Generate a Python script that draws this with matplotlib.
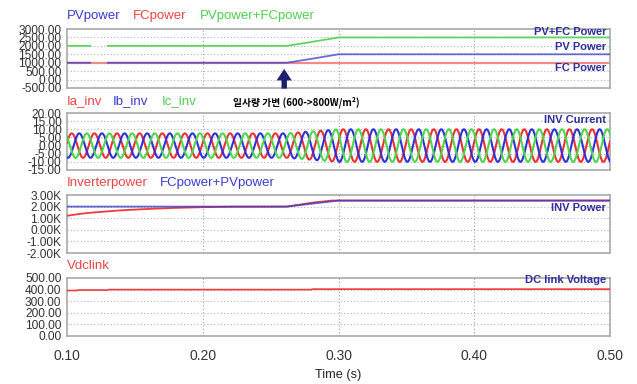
import numpy as np
import matplotlib
matplotlib.use("Agg")
import matplotlib.pyplot as plt

# ---------------- data ----------------
x_ticks = [0.10, 0.20, 0.30, 0.40, 0.50]
x_tick_labels = ["0.10", "0.20", "0.30", "0.40", "0.50"]

# Panel 1: PV / FC power
p1_t = [0.100, 0.117, 0.1171, 0.1299, 0.130, 0.262, 0.280, 0.300, 0.500]
pv_power = [1000, 1000, np.nan, np.nan, 1000, 1000, 1230, 1500, 1500]
fc_t = [0.100, 0.500]
fc_power = [1000, 1000]
pvfc_power = [2000, 2000, np.nan, np.nan, 2000, 2000, 2230, 2500, 2500]
p1_yticks = [3000, 2500, 2000, 1500, 1000, 500, 0, -500]
p1_ylabels = ["3000.00", "2500.00", "2000.00", "1500.00", "1000.00", "500.00", "0.00", "-500.00"]

# Panel 2: inverter currents (60 Hz three-phase, amplitude envelope)
cur_freq = 60.0
cur_phase_t = 0.1035        # time of first Ia peak
amp_t = [0.100, 0.262, 0.300, 0.500]
amp_val = [7.5, 7.5, 10.0, 10.0]
p2_yticks = [20, 15, 10, 5, 0, -5, -10, -15]
p2_ylabels = ["20.00", "15.00", "10.00", "5.00", "0.00", "-5.00", "-10.00", "-15.00"]

# Panel 3: inverter power vs FC+PV power
inv_t = [0.100, 0.110, 0.120, 0.140, 0.160, 0.180, 0.200, 0.220, 0.262, 0.280, 0.295, 0.500]
inv_power = [1210, 1380, 1500, 1680, 1800, 1890, 1950, 1990, 2000, 2330, 2520, 2520]
sum_t = [0.100, 0.262, 0.300, 0.500]
sum_power = [2000, 2000, 2520, 2520]
p3_yticks = [3000, 2000, 1000, 0, -1000, -2000]
p3_ylabels = ["3.00K", "2.00K", "1.00K", "0.00K", "-1.00K", "-2.00K"]

# Panel 4: DC link voltage
vdc_t = [0.100, 0.107, 0.108, 0.130, 0.131, 0.280, 0.281, 0.500]
vdc = [392, 392, 396, 396, 400, 400, 404, 404]
p4_yticks = [500, 400, 300, 200, 100, 0]
p4_ylabels = ["500.00", "400.00", "300.00", "200.00", "100.00", "0.00"]

# ---------------- style ----------------
W, H = 637, 384
fig = plt.figure(figsize=(W / 100, H / 100), dpi=100)
fig.patch.set_facecolor("white")
plt.rcParams["font.family"] = ["Liberation Sans", "DejaVu Sans"]

RED = "#ee3b3b"
RED_L = "#f28a8a"
BLUE = "#3a3ac8"
GREEN = "#5fd45f"
NAVY = "#2e2e9e"
TICKC = "#333333"
GRIDC = "#b4b4b4"

left_px, right_px = 67, 610
panels_px = [(29, 88), (113, 170), (195, 253), (278, 336)]
axes = []
for top, bot in panels_px:
    ax = fig.add_axes([left_px / W, 1 - bot / H, (right_px - left_px) / W, (bot - top) / H])
    axes.append(ax)

def style(ax, yticks, ylabels, ylim, grid_vals):
    ax.set_xlim(0.1, 0.5)
    ax.set_ylim(*ylim)
    ax.set_yticks(yticks)
    ax.set_yticklabels(ylabels, fontsize=8.6, color=TICKC)
    ax.tick_params(axis="y", length=0, pad=4)
    ax.set_xticks(x_ticks)
    ax.tick_params(axis="x", length=0)
    for s in ax.spines.values():
        s.set_color("#a9a9a9")
        s.set_linewidth(1.2)
    for g in grid_vals:
        ax.axhline(g, color=GRIDC, lw=0.8, ls=(0, (1, 2)), zorder=0)
    for g in [0.2, 0.3, 0.4]:
        ax.axvline(g, color="#a0a0a0", lw=0.8, ls=(0, (1, 2)), zorder=0)

# Panel 1
ax1 = axes[0]
style(ax1, p1_yticks, p1_ylabels, (-500, 3000), [2500, 2000, 1500, 1000, 500, 0])
ax1.plot(fc_t, fc_power, color=RED_L, lw=1.6, zorder=2)
ax1.plot(p1_t, pv_power, color=BLUE, lw=1.3, alpha=0.75, zorder=3)
ax1.plot(p1_t, pvfc_power, color=GREEN, lw=1.3, zorder=3)
ax1.set_xticklabels([])

# Panel 2
ax2 = axes[1]
style(ax2, p2_yticks, p2_ylabels, (-15, 20), [15, 10, 5, 0, -5, -10])
t = np.linspace(0.1, 0.5, 6000)
amp = np.interp(t, amp_t, amp_val)
w = 2 * np.pi * cur_freq
ia = amp * np.cos(w * (t - cur_phase_t))
ib = amp * np.cos(w * (t - cur_phase_t) - 2 * np.pi / 3)
ic = amp * np.cos(w * (t - cur_phase_t) + 2 * np.pi / 3)
ax2.plot(t, ia, color="#ee3030", lw=1.5, zorder=3)
ax2.plot(t, ib, color="#3030d8", lw=1.5, zorder=3)
ax2.plot(t, ic, color="#4cd64c", lw=1.5, zorder=3)
ax2.set_xticklabels([])

# Panel 3
ax3 = axes[2]
style(ax3, p3_yticks, p3_ylabels, (-2000, 3000), [2000, 1000, 0, -1000])
ax3.plot(inv_t, inv_power, color=RED, lw=1.3, zorder=3)
ax3.plot(sum_t, sum_power, color=BLUE, lw=1.3, alpha=0.8, zorder=3)
ax3.set_xticklabels([])

# Panel 4
ax4 = axes[3]
style(ax4, p4_yticks, p4_ylabels, (0, 500), [400, 300, 200, 100])
ax4.plot(vdc_t, vdc, color=RED, lw=1.2, zorder=3)
ax4.set_xticklabels(x_tick_labels, fontsize=10, color=TICKC)
ax4.tick_params(axis="x", pad=9)
ax4.set_xlabel("Time (s)", fontsize=9.2, color="#222222", labelpad=5)

# Legend-like coloured titles
def fig_text(xp, yp, s, color, size=9.5, **kw):
    fig.text(xp / W, 1 - yp / H, s, color=color, fontsize=size, va="center", ha="left", **kw)

fig_text(67, 16, "PVpower", "#3a3ad0")
fig_text(133, 16, "FCpower", "#ee4444")
fig_text(200, 16, "PVpower+FCpower", "#4fcf4f")
fig_text(67, 101, "Ia_inv", "#ee4444")
fig_text(113, 101, "Ib_inv", "#3a3ad0")
fig_text(162, 101, "Ic_inv", "#4fcf4f")
fig_text(67, 183, "Inverterpower", "#ee4444")
fig_text(160, 183, "FCpower+PVpower", "#3a3ad0")
fig_text(67, 266, "Vdclink", "#ee4444")

# Right-side panel labels
def rlabel(yp, s):
    fig.text(606 / W, 1 - yp / H, s, color=NAVY, fontsize=8, fontweight="bold",
             va="center", ha="right")

rlabel(32, "PV+FC Power")
rlabel(47, "PV Power")
rlabel(68, "FC Power")
rlabel(120, "INV Current")
rlabel(208, "INV Power")
rlabel(280, "DC link Voltage")

# Annotation arrow and Korean text
ax1.annotate("", xy=(0.26, 800), xytext=(0.26, -700),
             arrowprops=dict(arrowstyle="simple,head_length=0.32,head_width=0.42,tail_width=0.15",
                             color="#1f1f70", mutation_scale=26, lw=0),
             annotation_clip=False)
fig.text(296 / W, 1 - 102 / H, "일사량 가변 (600->800W/m²)", fontsize=7, fontweight="bold",
         color="black", ha="center", va="center", family=["Noto Sans CJK KR", "DejaVu Sans"])

fig.savefig("out.png", dpi=100, facecolor="white")
